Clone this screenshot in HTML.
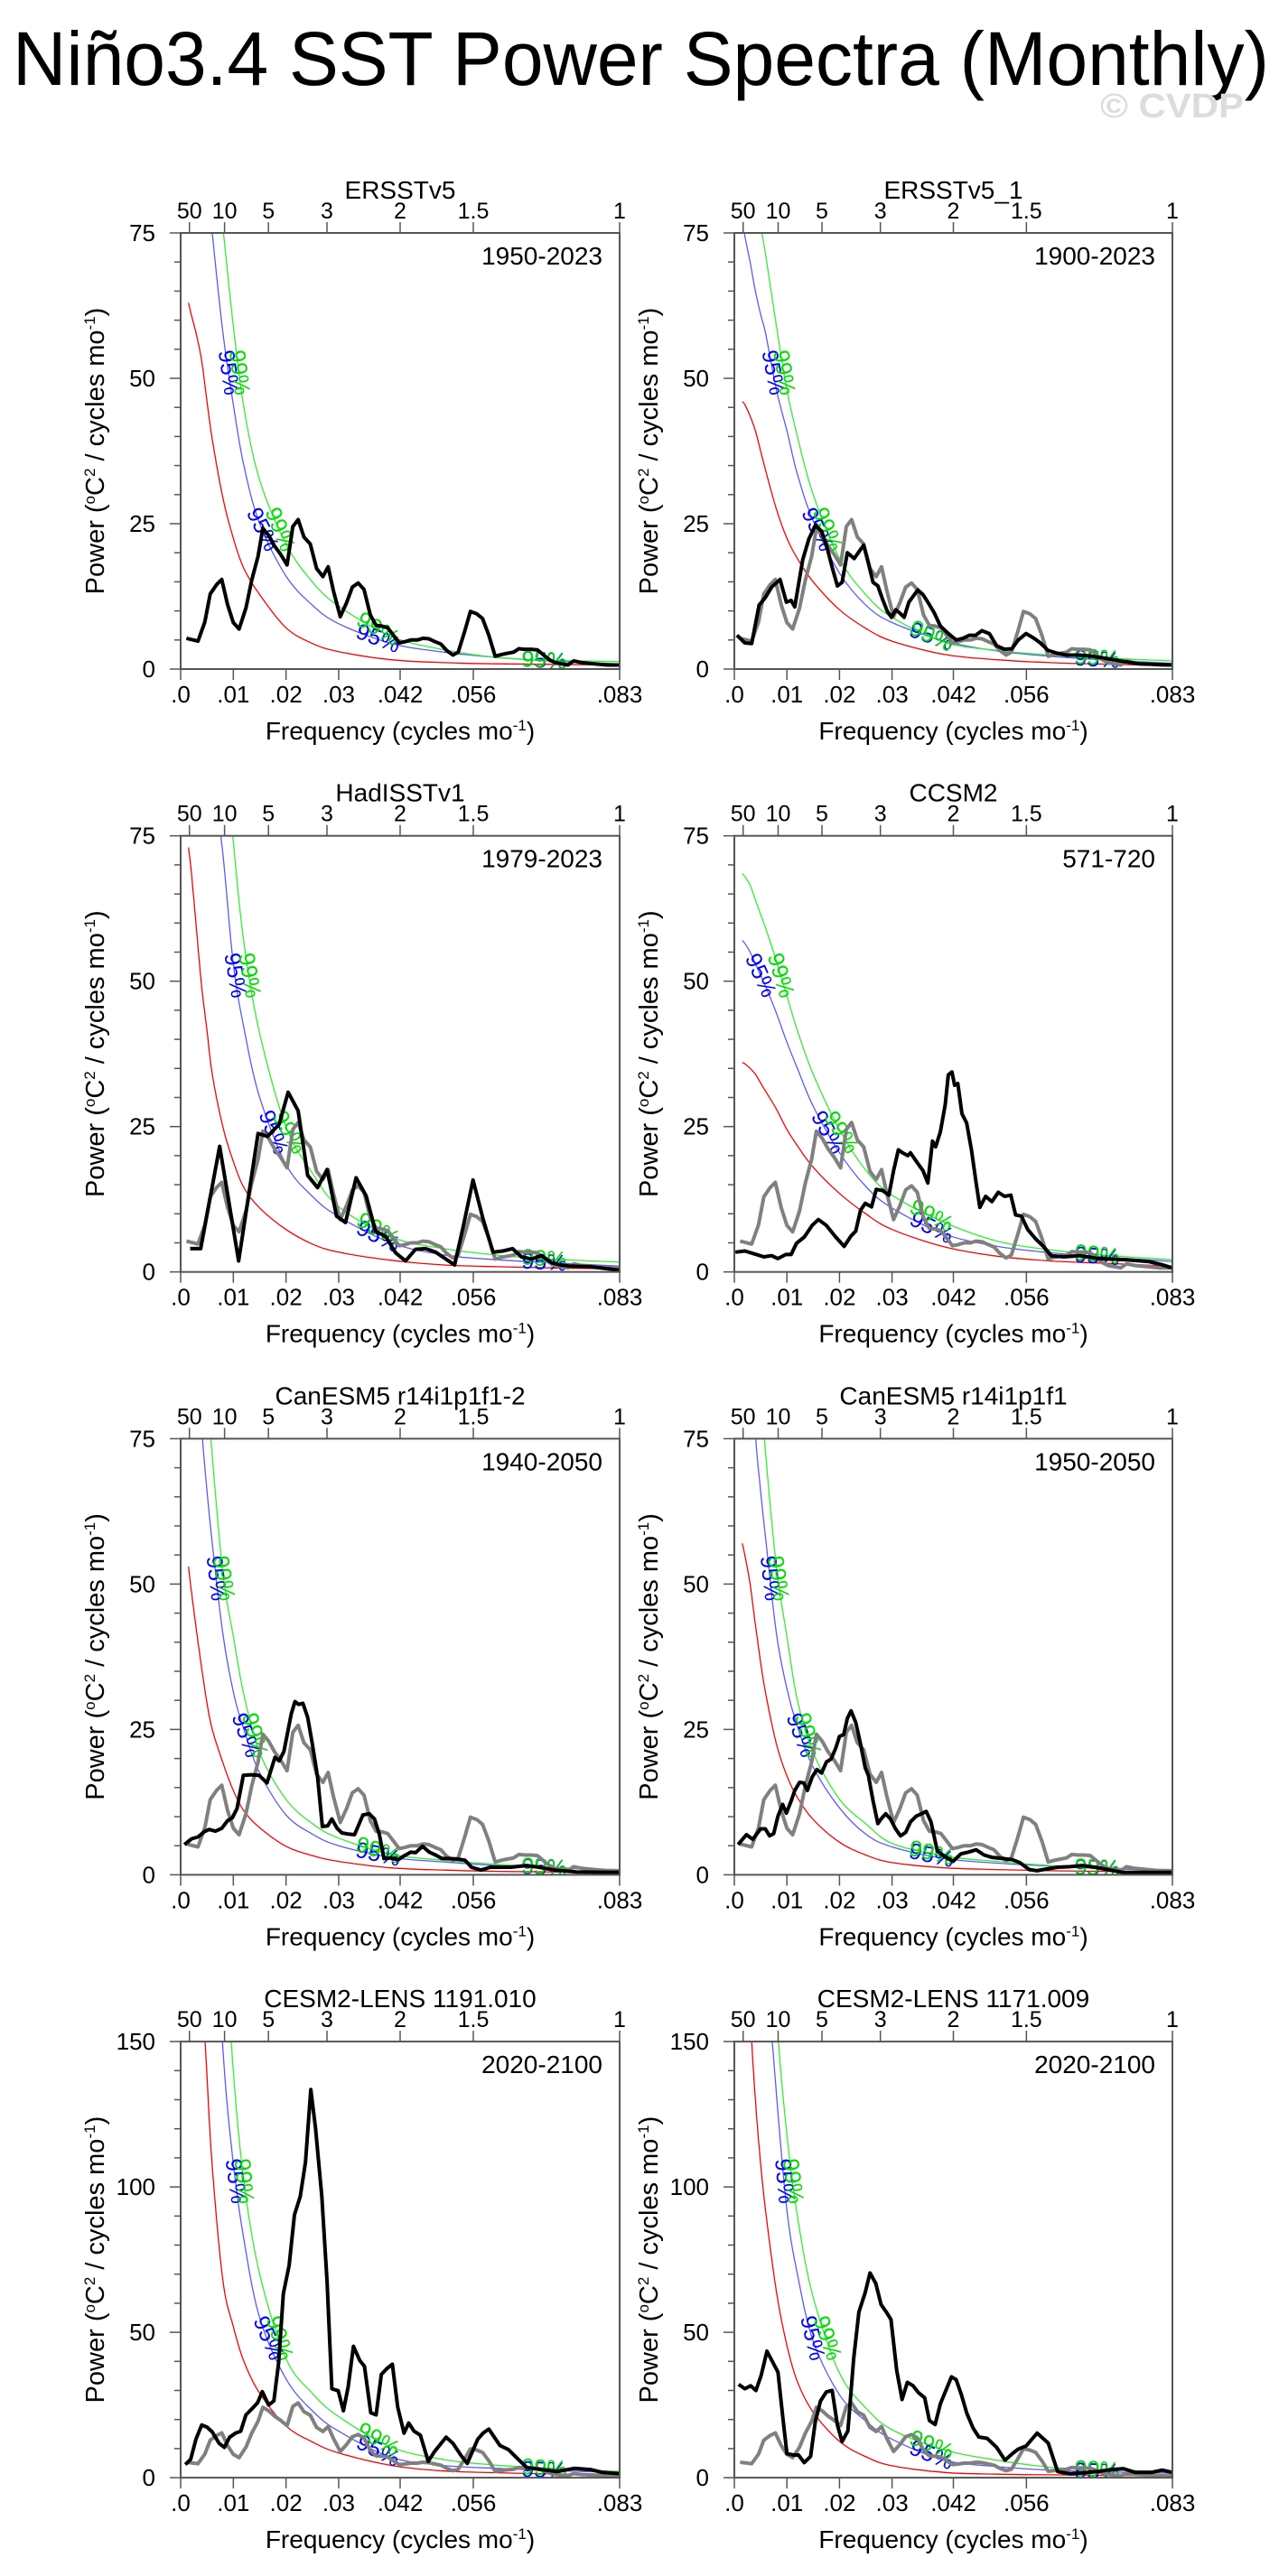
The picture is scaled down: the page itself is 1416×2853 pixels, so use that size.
<!DOCTYPE html>
<html><head><meta charset="utf-8"><title>Niño3.4 SST Power Spectra</title>
<style>html,body{margin:0;padding:0;background:#fff}svg{display:block}text{font-family:"Liberation Sans",sans-serif}</style>
</head><body>
<svg id="chart" width="1416" height="2853" viewBox="0 0 1416 2853" xmlns="http://www.w3.org/2000/svg">
<rect width="1416" height="2853" fill="#fff"/>
<text x="14" y="94" font-size="84" textLength="1391" lengthAdjust="spacingAndGlyphs">Niño3.4 SST Power Spectra (Monthly)</text>
<text x="1218" y="130" font-size="38" font-weight="bold" fill="#dcdcdc" textLength="159" lengthAdjust="spacingAndGlyphs">© CVDP</text>
</svg>
<script>
// Shared frequency grid for red-noise and significance curves (cycles/mo)
const RF=[.0015,.002,.003,.004,.005,.006,.008,.010,.012,.015,.020,.025,.030,.040,.050,.060,.070,.0833];
// Reference (ERSSTv5 1950-2023) spectrum, drawn gray in other panels
const refFreq=[.0011,.0033,.0046,.0056,.0068,.0078,.0089,.010,.0111,.0124,.0135,.0147,.0156,.0167,.0178,.019,.0202,.0213,.0223,.0234,.0246,.0258,.027,.028,.029,.0303,.0315,.0326,.0337,.0348,.036,.0371,.0381,.0393,.0404,.0415,.0426,.0437,.0449,.046,.0471,.0483,.0494,.0505,.0517,.0527,.0539,.055,.0562,.0573,.0585,.0597,.0609,.062,.0632,.0642,.0653,.0665,.0677,.0688,.07,.0711,.0723,.0735,.0746,.0762,.0786,.081,.0833];
const refPower=[5.3,4.8,8.1,12.9,14.5,15.4,11.1,8.0,6.9,10.5,15.3,19.4,24.2,23,21.2,19.7,17.9,24.5,25.7,22.7,21.5,17.3,15.9,17.6,13.5,9,11.4,14.1,14.8,13.7,9.3,7.5,7.4,7.1,5.8,4.5,4.7,5,5,5.3,5.2,4.7,4.3,3.2,2.4,2.9,6.4,9.9,9.5,8.7,5.8,2.2,2.5,2.7,2.9,3.5,3.4,3.4,3.3,2.5,1.6,1.1,.9,.7,1.4,1.1,.9,.7,.7];
// Panel 1 ERSSTv5
const p1Freq=refFreq, p1Power=refPower;
const p1Red=[63,61,57.5,53,46,39.5,29.5,22.5,17.3,12.8,7.1,4.4,3.0,1.6,1.1,.9,.8,.7];
const p1Blue=[118,115,105,95,85,75,58,45.5,35,25,16,11,7.8,4.4,2.9,2.0,1.4,.9];
const p1Green=[135,130,120,110,100,91,76,59,45,32.5,21.5,15,10.8,5.6,3.3,2.0,1.5,1.3];
// Panel 2 ERSSTv5_1
const p2Freq=[.0005,.002,.0033,.0047,.0059,.0071,.0087,.0099,.0108,.0115,.013,.0142,.0154,.0166,.0175,.0187,.0196,.0205,.0215,.0228,.0238,.0246,.0255,.0264,.0273,.0282,.0291,.0299,.0307,.0314,.0323,.0332,.0349,.0359,.0368,.038,.0392,.0407,.0422,.0435,.0447,.0459,.0471,.0485,.0499,.0514,.0528,.054,.0555,.057,.0582,.0597,.0615,.0632,.0656,.068,.0704,.0734,.0769,.0833];
const p2Power=[5.8,4.5,4.4,11,12.3,14.1,15.4,11.5,11.8,10.7,18.8,22.4,24.7,23.7,21.3,17.2,14.3,14.9,20,19,20.3,21.3,18.2,14.9,14.3,12,9.9,8.9,10.2,9.7,8.9,11.5,13.6,12.8,11.5,9.7,7.4,6.1,5,5.3,5.8,5.8,6.6,6.1,4,3.4,3.5,5,6.1,5.3,4.5,3.2,2.7,2.4,2.4,2.2,1.9,1.4,.9,.7];
const p2Red=[46,45.5,43.5,41,37.5,34,27.5,22.5,19,15,10.2,7.0,4.8,2.5,1.6,1.1,.85,.6];
const p2Blue=[78,74.5,70,65,61,57.5,48,41,33.5,25.5,16.5,11,8,4.8,3.1,2.2,1.6,1.0];
const p2Green=[96,92,85,80,76,71,59,48,40,30,19,12.8,8.9,4.6,3.2,2.4,1.9,1.4];
// Panel 3 HadISSTv1
const p3Freq=[.0018,.0038,.0074,.011,.0147,.0165,.0187,.0204,.0223,.0241,.026,.0278,.0296,.0313,.0333,.0352,.037,.0389,.0408,.0427,.0446,.0465,.0484,.0502,.052,.0538,.0555,.0574,.0593,.0612,.063,.0647,.0666,.0685,.0704,.0721,.0739,.0778,.0833];
const p3Power=[4,4,21.6,1.9,23.8,23.3,25.4,30.9,27.7,16.6,14.5,17.6,9.6,8.5,16.2,13.1,7,6.1,3.3,1.9,3.9,4,3.4,2.3,1.2,8.5,15.8,9.1,3.4,3.6,4,2.6,2.2,2.8,1.6,1.2,1,.9,.3];
const p3Red=[73,69,59,49,41.5,34,25,19,14.5,11,7.3,4.8,3.4,2.0,1.2,.9,.7,.5];
const p3Blue=[200,175,140,115,98,86,72,53,42,30,18.5,13,9.5,5,2.9,2.1,1.6,1.0];
const p3Green=[260,230,190,160,135,118,95,74,56.7,41,25,17,11.2,6,4.0,2.9,2.2,1.7];
// Panel 4 CCSM2
const p4Freq=[.0002,.002,.0038,.0056,.0071,.0083,.0098,.0108,.0118,.0133,.0148,.016,.0175,.0193,.0209,.0222,.0231,.024,.0249,.0261,.027,.0282,.0294,.0303,.0312,.032,.033,.0335,.0347,.0359,.0368,.0377,.0383,.0392,.0401,.0407,.0414,.0419,.0425,.0433,.0442,.0451,.046,.0467,.0478,.049,.0502,.0514,.0526,.0535,.0546,.0558,.0573,.0588,.0603,.0627,.0656,.0692,.0716,.0746,.0787,.0811,.0833];
const p4Power=[3.4,3.6,3.1,2.6,2.8,2.3,3,3,4.9,6,8,9,8,6,4.4,6.2,7,10.6,11.8,11.2,14.2,14,13.2,17.4,21,20.5,20,20.5,18.9,17.4,15.3,22.5,21.5,24.1,28.7,33.9,34.4,32.1,32.4,27.2,25.6,21,15.3,11.1,13,12.1,13.7,13,13.2,9.8,9.6,7.3,5.7,4.4,2.8,2.6,2.8,2.3,2.2,2.1,1.8,1.3,.7];
const p4Red=[36,35.8,35,34,32.5,31,28,24.5,21.7,18,13.5,10,7.3,4.3,2.7,1.9,1.5,1.0];
const p4Blue=[57,56.5,55,53,51,49,44.5,39.5,35,28.5,20.5,14.7,11,6.5,4.4,3.3,2.6,1.8];
const p4Green=[68.5,68,66.5,64,61.5,59,53.5,47.5,41.5,34,24.5,17.5,13.2,8.5,5.3,3.8,2.9,2.1];
// Panel 5 CanESM5 r14i1p1f1-2
const p5Freq=[.0007,.0021,.0033,.0045,.0054,.0066,.0078,.0089,.0098,.0107,.0119,.0134,.0149,.0164,.0179,.0187,.0196,.021,.0217,.0224,.0232,.0241,.025,.026,.0269,.0279,.0287,.0297,.0306,.0318,.033,.0346,.0358,.0368,.0377,.0386,.0398,.0413,.0425,.0437,.0446,.0459,.0472,.0484,.0496,.0511,.0526,.054,.0552,.057,.0588,.0603,.0627,.0656,.068,.071,.0751,.0833];
const p5Power=[5.2,6.2,6.5,7.4,7.8,7.5,8,9.3,9.8,11.4,17.1,17.2,17.1,15.8,20.2,19.6,21.2,27.7,29.8,29.3,29.5,27.1,22.5,16.8,8.3,8.4,9.6,8,7.2,7,6.9,10.3,10.5,9.6,7,2.8,2.9,2.6,3.3,3.9,3.8,4.9,3.9,3.4,2.8,2.8,2.7,2.5,1.3,.8,1.3,1.3,1.3,1.6,1.3,.8,.5,.4];
const p5Red=[53,49,42,35.5,29.5,25,19.3,14.5,11,8.1,4.9,3.3,2.3,1.2,.8,.6,.5,.4];
const p5Blue=[130,115,95,77,66,57,41.5,31.5,25,17.5,10.3,7,5,3.0,2.2,1.6,1.2,.8];
const p5Green=[150,135,115,98,84,72,52,41,31,21,13,8.8,6.3,3.5,2.5,1.8,1.3,.9];
// Panel 6 CanESM5 r14i1p1f1
const p6Freq=[.0007,.0023,.0035,.005,.0059,.0067,.0075,.0083,.0092,.0099,.0108,.0115,.0124,.0132,.0139,.0148,.0157,.0166,.0175,.0184,.0193,.02,.0208,.0215,.0222,.0231,.024,.0249,.0255,.0264,.0273,.0279,.0288,.0297,.0306,.0316,.0326,.0335,.0346,.0356,.0365,.0374,.0386,.0401,.0416,.0431,.0445,.046,.0475,.049,.0511,.0529,.0543,.0561,.0576,.0594,.0615,.0639,.0662,.0686,.071,.074,.0833];
const p6Power=[5.2,6.9,6.1,7.9,7.9,6.7,7.1,10.1,12.1,10.6,12.7,14.5,15.9,15.8,14.5,16.8,18.1,17.5,19.4,19.9,21.8,23.8,24.1,26.9,28.2,26.2,22.5,18.4,17.1,12.7,8.8,9.6,10.5,9.6,8,6.7,7.3,9.1,10.1,10.5,10.9,9.1,4.1,3.1,2.3,3.6,3.9,4.3,3.4,3,2.8,2.6,2.1,.9,.7,1,1.3,1.4,1.6,1.3,.9,.4,.4];
const p6Red=[57,55,50,43,36.5,31,22.5,17,13.3,9.5,5.6,3.4,2.1,1.2,.9,.7,.6,.5];
const p6Blue=[150,120,95,76,66,57.5,41.5,32,25.5,18.5,11.5,7,4.8,2.8,2.0,1.5,1.1,.7];
const p6Green=[160,140,115,98,85,72,53,41,30,21,13,8.8,5.4,3.2,2.3,1.6,1.2,.9];
// Panel 7 CESM2-LENS 1191.010
const p7Freq=[.0009,.0019,.0029,.004,.005,.006,.0073,.0083,.0093,.0104,.0114,.0124,.0135,.0146,.0155,.0167,.0177,.0186,.0195,.0206,.0216,.0227,.0237,.0247,.0256,.0268,.0278,.0287,.0299,.0309,.0318,.0328,.034,.0349,.0361,.0371,.0381,.0392,.0402,.0412,.0424,.0433,.0443,.0455,.047,.0482,.0504,.0517,.0532,.0544,.0564,.0574,.0585,.0606,.0622,.0641,.0657,.0684,.0715,.0747,.0778,.0801,.0833];
const p7Power=[4.5,6.3,13.2,18.1,17.4,15.7,11.8,10.4,13.9,15.3,16,21.6,23.6,25.7,29.6,25,26.4,39.6,63.3,73,90.4,96.7,108.5,133.5,120.3,96.7,67.5,30.6,29.9,23,31.3,45.2,40.3,38.3,22.3,21.6,35.5,37.6,39,24.3,15.3,18.8,16,14.6,5.6,9,13.9,11.8,7.7,4.9,13.2,15.3,16.7,11.1,9.7,6.3,3.5,2.8,2.1,3.2,2.8,1.8,1.4];
const p7Red=[400,320,230,175,138,107,68,52,40,29,17.8,12.3,8.5,4.2,2.3,1.7,1.3,1.0];
const p7Blue=[800,600,430,330,270,220,148,108,82,55,34,23,16,7,4.2,3.2,2.5,1.8];
const p7Green=[1000,800,600,460,360,290,200,140,102,70,41,29,21,10.5,6.2,4.3,3.2,2.1];
// Panel 8 CESM2-LENS 1171.009
const p8Freq=[.0008,.002,.0031,.0041,.0051,.0062,.0083,.0092,.01,.0112,.0122,.0133,.0145,.0154,.0164,.0175,.0186,.0196,.0205,.0216,.0227,.0237,.0249,.0258,.0269,.0279,.0289,.0298,.0309,.0319,.0329,.034,.035,.0362,.0371,.0382,.0392,.0413,.0422,.0432,.0442,.0454,.0465,.0481,.0499,.0515,.0529,.054,.0555,.0576,.0597,.0615,.0639,.0662,.0692,.0716,.074,.0763,.0793,.0814,.0833];
const p8Power=[32.1,30.6,31.6,30,35.2,43.5,36.3,21.2,8.3,7.8,7.8,5.2,7.3,19.2,26.4,29.5,30,18.1,12.4,16.1,40.9,57,63.7,70.4,66.8,59.6,57,54.4,36.8,26.9,32.8,31.6,29.3,27.5,19.7,18.3,25.4,34.7,33.7,28.5,22.3,17.1,14,13.5,10.4,6,8.3,9.8,10.9,15.3,11.9,2.1,1.3,1.6,2.1,2.8,3.1,1.8,1.8,2.6,1.8];
const p8Red=[230,200,160,130,108,91,64,45.5,33,22.5,12.5,7.2,4.1,1.8,1.2,1.0,.8,.7];
const p8Blue=[600,450,330,260,210,180,132,92,70,47,28.5,19.5,13.2,6,3.8,2.6,2.0,1.6];
const p8Green=[800,600,450,350,280,230,160,118,90,62,36,24,16.5,9.5,6,3.6,2.7,2.1];
// Axis labels
const xTickVals=[0,.01,.02,.03,.041667,.055556,.083333];
const xTickLabels=[".0",".01",".02",".03",".042",".056",".083"];
const periodVals=[50,10,5,3,2,1.5,1];
const periodLabels=["50","10","5","3","2","1.5","1"];

const panels=[
 {name:"ersstv5",title:"ERSSTv5",years:"1950-2023",f:p1Freq,p:p1Power,red:p1Red,blue:p1Blue,green:p1Green,gray:false,ymax:75,col:0,row:0},
 {name:"ersstv5-1",title:"ERSSTv5_1",years:"1900-2023",f:p2Freq,p:p2Power,red:p2Red,blue:p2Blue,green:p2Green,gray:true,ymax:75,col:1,row:0},
 {name:"hadisstv1",title:"HadISSTv1",years:"1979-2023",f:p3Freq,p:p3Power,red:p3Red,blue:p3Blue,green:p3Green,gray:true,ymax:75,col:0,row:1},
 {name:"ccsm2",title:"CCSM2",years:"571-720",f:p4Freq,p:p4Power,red:p4Red,blue:p4Blue,green:p4Green,gray:true,ymax:75,col:1,row:1},
 {name:"canesm5-a",title:"CanESM5 r14i1p1f1-2",years:"1940-2050",f:p5Freq,p:p5Power,red:p5Red,blue:p5Blue,green:p5Green,gray:true,ymax:75,col:0,row:2},
 {name:"canesm5-b",title:"CanESM5 r14i1p1f1",years:"1950-2050",f:p6Freq,p:p6Power,red:p6Red,blue:p6Blue,green:p6Green,gray:true,ymax:75,col:1,row:2},
 {name:"cesm2-lens-a",title:"CESM2-LENS 1191.010",years:"2020-2100",f:p7Freq,p:p7Power,red:p7Red,blue:p7Blue,green:p7Green,gray:true,ymax:150,col:0,row:3},
 {name:"cesm2-lens-b",title:"CESM2-LENS 1171.009",years:"2020-2100",f:p8Freq,p:p8Power,red:p8Red,blue:p8Blue,green:p8Green,gray:true,ymax:150,col:1,row:3}
];

const NS="http://www.w3.org/2000/svg";
const svg=document.getElementById("chart");
function mk(tag,attrs,parent){const e=document.createElementNS(NS,tag);for(const k in attrs)e.setAttribute(k,attrs[k]);(parent||svg).appendChild(e);return e;}
const FMAX=1/12;
function linePath(xs,ys){let d="";for(let i=0;i<xs.length;i++)d+=(i?"L":"M")+xs[i].toFixed(1)+","+ys[i].toFixed(1);return d;}
function smoothPath(xs,ys){let d="M"+xs[0].toFixed(1)+","+ys[0].toFixed(1);for(let i=0;i<xs.length-1;i++){const x0=xs[Math.max(0,i-1)],y0=ys[Math.max(0,i-1)],x1=xs[i],y1=ys[i],x2=xs[i+1],y2=ys[i+1],x3=xs[Math.min(xs.length-1,i+2)],y3=ys[Math.min(xs.length-1,i+2)];d+="C"+(x1+(x2-x0)/6).toFixed(1)+","+(y1+(y2-y0)/6).toFixed(1)+" "+(x2-(x3-x1)/6).toFixed(1)+","+(y2-(y3-y1)/6).toFixed(1)+" "+x2.toFixed(1)+","+y2.toFixed(1);}return d;}

panels.forEach((P,idx)=>{
  const L=P.col?813:200, R=P.col?1298:686, T=258+P.row*667.7, B=T+483;
  const xs=f=>L+(f/FMAX)*(R-L);
  const ys=v=>B-(v/P.ymax)*(B-T);
  const g=mk("g",{});
  
  
  const cid="clip"+idx;
  const cp=mk("clipPath",{id:cid},g);mk("rect",{x:L,y:T,width:R-L,height:B-T},cp);
  const plot=mk("g",{"clip-path":"url(#"+cid+")"},g);
  const rx=RF.map(xs);
  const curves=[["red-noise-curve",P.red,"#ff0000"],["conf-95-curve",P.blue,"#5a5aff"],["conf-99-curve",P.green,"#33ee33"]];
  curves.forEach(c=>{const el=mk("path",{d:smoothPath(rx,c[1].map(ys)),fill:"none",stroke:c[2],"stroke-width":1.3},plot);
    
    });
  function addLabels(arr,txt,color,name){
    const targets=[];
    [0.68,0.32].forEach(fr=>{const tv=fr*P.ymax;for(let i=0;i<RF.length-1;i++){if(arr[i]>=tv&&arr[i+1]<tv){const t=(arr[i]-tv)/(arr[i]-arr[i+1]);targets.push(RF[i]+t*(RF[i+1]-RF[i]));break;}}});
    targets.push(0.0375,0.069);
    targets.forEach(f=>{
      let i=0;while(i<RF.length-2&&RF[i+1]<f)i++;
      const t=(f-RF[i])/(RF[i+1]-RF[i]);const v=arr[i]+t*(arr[i+1]-arr[i]);
      const px=xs(f),py=ys(v);
      const dx=rx[i+1]-rx[i],dy=ys(arr[i+1])-ys(arr[i]);
      const ang=Math.atan2(dy,dx)*180/Math.PI;
      const el=mk("text",{x:px.toFixed(1),y:py.toFixed(1),"font-size":25,fill:color,"text-anchor":"middle","dominant-baseline":"central",transform:"rotate("+ang.toFixed(1)+" "+px.toFixed(1)+" "+py.toFixed(1)+")"},plot);
      el.textContent=txt;
      
      
    });
  }
  addLabels(P.blue,"95%","#0000ff","conf-95-label");
  addLabels(P.green,"99%","#00dd00","conf-99-label");
  if(P.gray){const el=mk("path",{d:linePath(refFreq.map(xs),refPower.map(ys)),fill:"none",stroke:"#808080","stroke-width":4,"stroke-linejoin":"round"},plot);
    
    }
  const bl=mk("path",{d:linePath(P.f.map(xs),P.p.map(ys)),fill:"none",stroke:"#000","stroke-width":4,"stroke-linejoin":"round"},plot);
  
  
  const fr=mk("rect",{x:L,y:T,width:R-L,height:B-T,fill:"none",stroke:"#555","stroke-width":2},g);
  
  
  const step=P.ymax===75?5:10, major=P.ymax===75?25:50;
  for(let v=0;v<=P.ymax+0.01;v+=step){const isM=v%major===0;mk("line",{x1:L-(isM?12:7),x2:L,y1:ys(v),y2:ys(v),stroke:"#555","stroke-width":1.5},g);
    if(isM){const t=mk("text",{x:L-28,y:ys(v)+9,"font-size":26,"text-anchor":"end"},g);t.textContent=String(v);
      
      }}
  xTickVals.forEach((f,i)=>{mk("line",{x1:xs(f),x2:xs(f),y1:B,y2:B+12,stroke:"#555","stroke-width":1.5},g);
    const t=mk("text",{x:xs(f),y:B+37,"font-size":26,"text-anchor":"middle"},g);t.textContent=xTickLabels[i];
    
    });
  periodVals.forEach((p,i)=>{const x=xs(1/(12*p));mk("line",{x1:x,x2:x,y1:T,y2:T-12,stroke:"#555","stroke-width":1.5},g);
    const t=mk("text",{x:x,y:T-16,"font-size":25,"text-anchor":"middle"},g);t.textContent=periodLabels[i];
    
    });
  const ti=mk("text",{x:(L+R)/2,y:T-38,"font-size":28,"text-anchor":"middle"},g);ti.textContent=P.title;
  
  
  const yr=mk("text",{x:R-19,y:T+35,"font-size":28,"text-anchor":"end"},g);yr.textContent=P.years;
  
  
  const xt=mk("text",{x:(L+R)/2,y:B+78,"font-size":28,"text-anchor":"middle"},g);
  xt.innerHTML='Frequency (cycles mo<tspan dy="-10" font-size="17">-1</tspan><tspan dy="10">)</tspan>';
  
  
  const yx=L-85, yy=(T+B)/2;
  const yt=mk("text",{x:yx,y:yy,"font-size":29,"text-anchor":"middle",transform:"rotate(-90 "+yx+" "+yy+")"},g);
  yt.innerHTML='Power (<tspan dy="-10" font-size="17">o</tspan><tspan dy="10">C</tspan><tspan dy="-10" font-size="17">2</tspan><tspan dy="10"> / cycles mo</tspan><tspan dy="-10" font-size="17">-1</tspan><tspan dy="10">)</tspan>';
  
  
});
</script>
</body></html>
